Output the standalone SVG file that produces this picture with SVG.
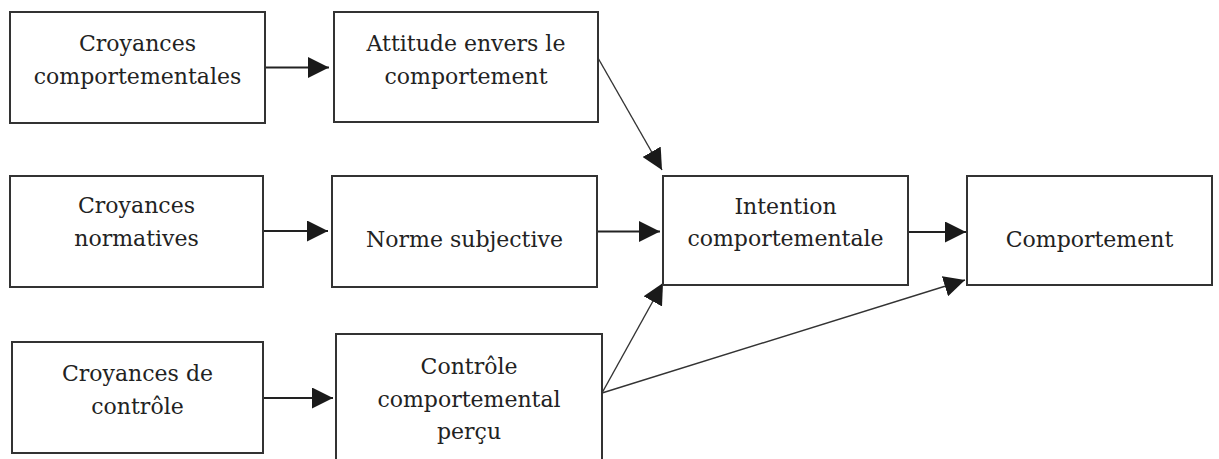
<svg xmlns="http://www.w3.org/2000/svg" width="1219" height="459" viewBox="0 0 1219 459">
<style>
.box{fill:#fff;stroke:#333;stroke-width:2}
.t{font-family:"DejaVu Serif","Liberation Serif",serif;font-size:22px;fill:#222;text-anchor:middle}
.c{stroke:#222;stroke-width:1.8;fill:none;marker-end:url(#ah)}
.d{stroke:#333;stroke-width:1.4;fill:none;marker-end:url(#ah)}
</style>
<defs>
<marker id="ah" viewBox="0 0 21 21" refX="21" refY="10.5" markerWidth="21" markerHeight="21" markerUnits="userSpaceOnUse" orient="auto">
<path d="M0,0 L21,10.5 L0,21 z" fill="#1a1a1a"/>
</marker>
</defs>
<rect width="1219" height="459" fill="#fff"/>
<g id="connectors">
<line class="c" x1="265" y1="67.5" x2="329" y2="67.5"/>
<line class="c" x1="263" y1="231" x2="328" y2="231"/>
<line class="c" x1="263" y1="398" x2="333" y2="398"/>
<line class="d" x1="598" y1="58" x2="662" y2="170"/>
<line class="c" x1="597" y1="231.5" x2="660" y2="231.5"/>
<line class="d" x1="602" y1="393" x2="663" y2="283"/>
<line class="d" x1="602" y1="393" x2="965" y2="280"/>
<line class="c" x1="908" y1="232" x2="966" y2="232"/>
</g>
<g id="croyances-comportementales">
<rect class="box" x="10" y="12" width="255" height="111"/>
<text class="t" x="137.5" y="51">Croyances</text>
<text class="t" x="137.5" y="84">comportementales</text>
</g>
<g id="attitude">
<rect class="box" x="334" y="12" width="264" height="110"/>
<text class="t" x="466" y="51">Attitude envers le</text>
<text class="t" x="466" y="84">comportement</text>
</g>
<g id="croyances-normatives">
<rect class="box" x="10" y="176" width="253" height="111"/>
<text class="t" x="136.5" y="213">Croyances</text>
<text class="t" x="136.5" y="246">normatives</text>
</g>
<g id="norme-subjective">
<rect class="box" x="332" y="176" width="265" height="111"/>
<text class="t" x="464.5" y="247">Norme subjective</text>
</g>
<g id="croyances-controle">
<rect class="box" x="12" y="342" width="251" height="111"/>
<text class="t" x="137.5" y="381">Croyances de</text>
<text class="t" x="137.5" y="414">contrôle</text>
</g>
<g id="controle-percu">
<rect class="box" x="336" y="334" width="266" height="140"/>
<text class="t" x="469" y="374">Contrôle</text>
<text class="t" x="469" y="407">comportemental</text>
<text class="t" x="469" y="439">perçu</text>
</g>
<g id="intention">
<rect class="box" x="663" y="176" width="245" height="109"/>
<text class="t" x="785.5" y="214">Intention</text>
<text class="t" x="785.5" y="246">comportementale</text>
</g>
<g id="comportement">
<rect class="box" x="967" y="176" width="245" height="109"/>
<text class="t" x="1089.5" y="247">Comportement</text>
</g>
</svg>
